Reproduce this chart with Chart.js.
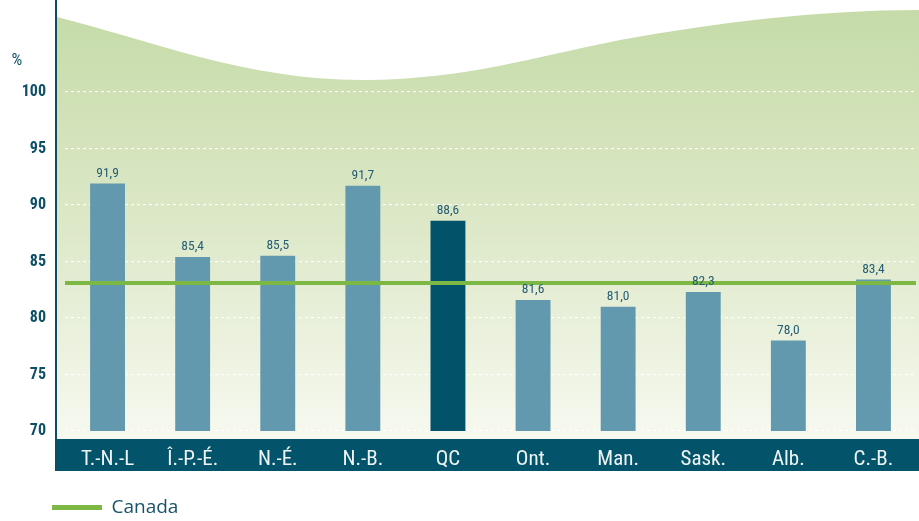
<!DOCTYPE html>
<html>
<head>
<meta charset="utf-8">
<script src="https://cdn.jsdelivr.net/npm/chart.js@4.4.1/dist/chart.umd.min.js"></script>
<style>
  html, body { margin: 0; padding: 0; background: #ffffff; }
  #wrap { width: 919px; height: 521px; position: relative; }
</style>
</head>
<body>
<div id="wrap"><canvas id="chart" width="919" height="521"></canvas></div>
<script>
// données
const provinces = ['T.-N.-L', 'Î.-P.-É.', 'N.-É.', 'N.-B.', 'QC', 'Ont.', 'Man.', 'Sask.', 'Alb.', 'C.-B.'];
const taux = [91.9, 85.4, 85.5, 91.7, 88.6, 81.6, 81.0, 82.3, 78.0, 83.4];
const canada = 83.1;
const yTicks = [70, 75, 80, 85, 90, 95, 100];

const narrow = "'Roboto Condensed', 'DejaVu Sans Condensed', sans-serif";
const teal = '#6399ae';
const tealDark = '#02526a';
const green = '#7cb843';
const textBlue = '#175369';

// fond vert ondulé, bande de l'axe x et ligne verticale
const decorPlugin = {
    id: 'decor',
    afterLayout(chart) {
        // décaler la légende sous l'axe
        chart.legend.left += 42;
        chart.legend.top += 6;
    },
    beforeDraw(chart) {
        const ctx = chart.ctx;
        const a = chart.chartArea;
        const left = a.left - 8, right = chart.width, bandTop = a.bottom + 8, bandBottom = a.bottom + 40;
        ctx.save();
        ctx.fillStyle = '#ffffff';
        ctx.fillRect(0, 0, chart.width, chart.height);

        const grad = ctx.createLinearGradient(0, 10, 0, bandTop);
        grad.addColorStop(0, '#c5dba8');
        grad.addColorStop(0.5, '#dde8c8');
        grad.addColorStop(1, '#f7f9f0');
        ctx.fillStyle = grad;
        ctx.beginPath();
        ctx.moveTo(left, 17);
        ctx.bezierCurveTo(150, 40, 250, 82, 370, 80);
        ctx.bezierCurveTo(470, 78, 530, 58, 620, 40);
        ctx.bezierCurveTo(720, 22, 820, 10, right, 10);
        ctx.lineTo(right, bandTop);
        ctx.lineTo(left, bandTop);
        ctx.closePath();
        ctx.fill();

        ctx.fillStyle = '#03536a';
        ctx.fillRect(left, bandTop, right - left, bandBottom - bandTop);

        ctx.fillStyle = '#0b4d63';
        ctx.fillRect(left - 2, 0, 2, bandBottom);

        ctx.fillStyle = textBlue;
        ctx.font = '17px ' + narrow;
        ctx.textAlign = 'center';
        ctx.textBaseline = 'alphabetic';
        ctx.fillText('%', 17, 65);
        ctx.restore();
    },
    afterDatasetsDraw(chart) {
        const ctx = chart.ctx;
        const meta = chart.getDatasetMeta(0);
        ctx.save();
        ctx.fillStyle = '#265e74';
        ctx.font = '13.5px ' + narrow;
        ctx.textAlign = 'center';
        ctx.textBaseline = 'alphabetic';
        meta.data.forEach((bar, i) => {
            ctx.fillText(taux[i].toFixed(1).replace('.', ','), bar.x, bar.y - 7);
        });
        ctx.restore();
    }
};

const config = {
    type: 'bar',
    data: {
        labels: provinces,
        datasets: [
            {
                label: 'Taux',
                data: taux,
                backgroundColor: provinces.map(p => p === 'QC' ? tealDark : teal),
                grouped: false,
                categoryPercentage: 1,
                barPercentage: 0.41,
                order: 1
            },
            {
                type: 'line',
                label: 'Canada',
                data: [{ x: 0, y: canada }, { x: 1, y: canada }],
                xAxisID: 'x2',
                borderColor: green,
                backgroundColor: green,
                borderWidth: 4,
                pointRadius: 0,
                order: 0
            }
        ]
    },
    plugins: [decorPlugin],
    options: {
        responsive: false,
        animation: false,
        layout: { padding: { top: 92, right: 3, left: 0, bottom: 0 } },
        scales: {
            x: {
                grid: { display: false },
                border: { display: false },
                ticks: { color: '#eef4f4', font: { family: narrow, size: 21 }, padding: 8 },
                afterFit(scale) { scale.height = 51; }
            },
            x2: {
                type: 'linear',
                display: false,
                offset: false,
                min: 0,
                max: 1
            },
            y: {
                min: 70,
                max: 100,
                afterBuildTicks(scale) { scale.ticks = yTicks.map(v => ({ value: v })); },
                grid: { color: 'rgba(255,255,255,0.95)', drawTicks: false, lineWidth: 1.2 },
                border: { display: false, dash: [3, 3] },
                ticks: { color: '#0e4f66', font: { family: narrow, size: 16, weight: 'bold' }, padding: 19 },
                afterFit(scale) { scale.width = 65; }
            }
        },
        plugins: {
            tooltip: { enabled: false },
            legend: {
                position: 'bottom',
                align: 'start',
                labels: {
                    boxWidth: 50,
                    boxHeight: 5,
                    padding: 10,
                    color: textBlue,
                    font: { family: "'Open Sans', sans-serif", size: 19 },
                    generateLabels(chart) {
                        return Chart.defaults.plugins.legend.labels.generateLabels(chart)
                            .filter(l => l.datasetIndex === 1)
                            .map(l => ({ ...l, lineWidth: 0, fillStyle: green, strokeStyle: green }));
                    }
                }
            }
        }
    }
};

new Chart(document.getElementById('chart'), config);
</script>
</body>
</html>
